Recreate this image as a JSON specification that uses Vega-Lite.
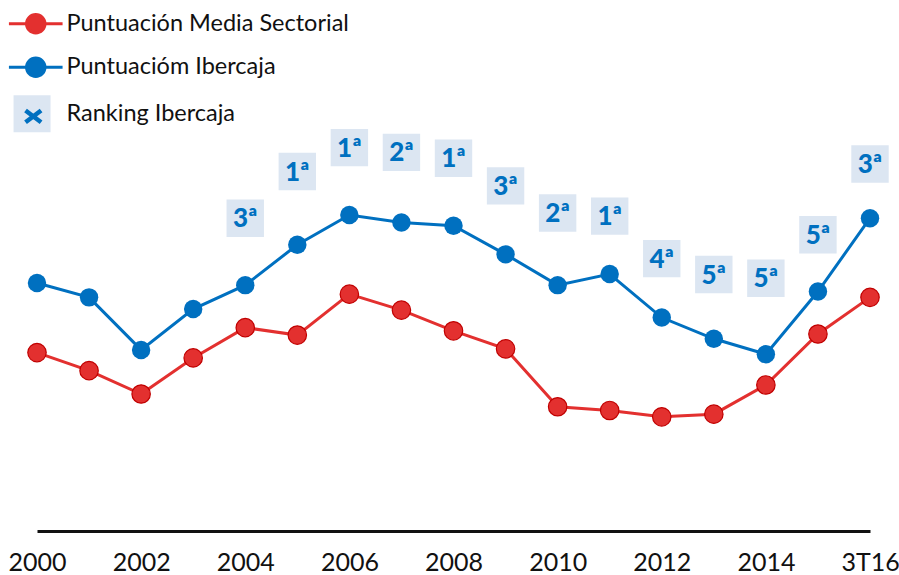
{
  "$schema": "https://vega.github.io/schema/vega-lite/v6.json",
  "width": 833,
  "height": 531,
  "autosize": {"type": "none"},
  "padding": {"left": 37, "top": 0, "right": 29, "bottom": 44},
  "background": "white",
  "config": {"view": {"stroke": null}, "font": "Lato"},
  "data": {
    "values": [
      {"periodo": "2000", "serie": "Puntuación Media Sectorial", "valor": 33.6},
      {"periodo": "2001", "serie": "Puntuación Media Sectorial", "valor": 30.2},
      {"periodo": "2002", "serie": "Puntuación Media Sectorial", "valor": 25.8},
      {"periodo": "2003", "serie": "Puntuación Media Sectorial", "valor": 32.6},
      {"periodo": "2004", "serie": "Puntuación Media Sectorial", "valor": 38.3},
      {"periodo": "2005", "serie": "Puntuación Media Sectorial", "valor": 36.9},
      {"periodo": "2006", "serie": "Puntuación Media Sectorial", "valor": 44.6},
      {"periodo": "2007", "serie": "Puntuación Media Sectorial", "valor": 41.6},
      {"periodo": "2008", "serie": "Puntuación Media Sectorial", "valor": 37.7},
      {"periodo": "2009", "serie": "Puntuación Media Sectorial", "valor": 34.3},
      {"periodo": "2010", "serie": "Puntuación Media Sectorial", "valor": 23.4},
      {"periodo": "2011", "serie": "Puntuación Media Sectorial", "valor": 22.7},
      {"periodo": "2012", "serie": "Puntuación Media Sectorial", "valor": 21.5},
      {"periodo": "2013", "serie": "Puntuación Media Sectorial", "valor": 22.0},
      {"periodo": "2014", "serie": "Puntuación Media Sectorial", "valor": 27.5},
      {"periodo": "2015", "serie": "Puntuación Media Sectorial", "valor": 37.1},
      {"periodo": "3T16", "serie": "Puntuación Media Sectorial", "valor": 44.0},
      {"periodo": "2000", "serie": "Puntuacióm Ibercaja", "valor": 46.7},
      {"periodo": "2001", "serie": "Puntuacióm Ibercaja", "valor": 44.0},
      {"periodo": "2002", "serie": "Puntuacióm Ibercaja", "valor": 34.1},
      {"periodo": "2003", "serie": "Puntuacióm Ibercaja", "valor": 41.8},
      {"periodo": "2004", "serie": "Puntuacióm Ibercaja", "valor": 46.3},
      {"periodo": "2005", "serie": "Puntuacióm Ibercaja", "valor": 53.9},
      {"periodo": "2006", "serie": "Puntuacióm Ibercaja", "valor": 59.5},
      {"periodo": "2007", "serie": "Puntuacióm Ibercaja", "valor": 58.1},
      {"periodo": "2008", "serie": "Puntuacióm Ibercaja", "valor": 57.5},
      {"periodo": "2009", "serie": "Puntuacióm Ibercaja", "valor": 52.1},
      {"periodo": "2010", "serie": "Puntuacióm Ibercaja", "valor": 46.3},
      {"periodo": "2011", "serie": "Puntuacióm Ibercaja", "valor": 48.4},
      {"periodo": "2012", "serie": "Puntuacióm Ibercaja", "valor": 40.2},
      {"periodo": "2013", "serie": "Puntuacióm Ibercaja", "valor": 36.2},
      {"periodo": "2014", "serie": "Puntuacióm Ibercaja", "valor": 33.3},
      {"periodo": "2015", "serie": "Puntuacióm Ibercaja", "valor": 45.1},
      {"periodo": "3T16", "serie": "Puntuacióm Ibercaja", "valor": 58.9},
      {"periodo": "2004", "serie": "Ranking Ibercaja", "valor": 58.9, "rank": "3ª", "leyenda": "x"},
      {"periodo": "2005", "serie": "Ranking Ibercaja", "valor": 67.7, "rank": "1ª", "leyenda": "x"},
      {"periodo": "2006", "serie": "Ranking Ibercaja", "valor": 72.2, "rank": "1ª", "leyenda": "x"},
      {"periodo": "2007", "serie": "Ranking Ibercaja", "valor": 71.3, "rank": "2ª", "leyenda": "x"},
      {"periodo": "2008", "serie": "Ranking Ibercaja", "valor": 70.2, "rank": "1ª", "leyenda": "x"},
      {"periodo": "2009", "serie": "Ranking Ibercaja", "valor": 65.0, "rank": "3ª", "leyenda": "x"},
      {"periodo": "2010", "serie": "Ranking Ibercaja", "valor": 59.9, "rank": "2ª", "leyenda": "x"},
      {"periodo": "2011", "serie": "Ranking Ibercaja", "valor": 59.3, "rank": "1ª", "leyenda": "x"},
      {"periodo": "2012", "serie": "Ranking Ibercaja", "valor": 51.3, "rank": "4ª", "leyenda": "x"},
      {"periodo": "2013", "serie": "Ranking Ibercaja", "valor": 48.3, "rank": "5ª", "leyenda": "x"},
      {"periodo": "2014", "serie": "Ranking Ibercaja", "valor": 47.6, "rank": "5ª", "leyenda": "x"},
      {"periodo": "2015", "serie": "Ranking Ibercaja", "valor": 55.8, "rank": "5ª", "leyenda": "x"},
      {"periodo": "3T16", "serie": "Ranking Ibercaja", "valor": 69.1, "rank": "3ª", "leyenda": "x"}
    ]
  },
  "encoding": {
    "x": {
      "field": "periodo",
      "type": "ordinal",
      "scale": {"type": "point", "padding": 0},
      "axis": {
        "title": null,
        "values": ["2000", "2002", "2004", "2006", "2008", "2010", "2012", "2014", "3T16"],
        "labelAngle": 0,
        "labelFont": "Lato",
        "labelFontSize": 25,
        "labelColor": "#111111",
        "labelPadding": 19,
        "ticks": false,
        "grid": false,
        "domainColor": "#111111",
        "domainWidth": 3
      }
    },
    "y": {
      "field": "valor",
      "type": "quantitative",
      "scale": {"domain": [0, 100], "nice": false, "zero": false},
      "axis": null
    }
  },
  "layer": [
    {
      "transform": [{"filter": "datum.serie !== 'Ranking Ibercaja'"}],
      "mark": {"type": "line", "strokeWidth": 3},
      "encoding": {
        "color": {
          "field": "serie",
          "type": "nominal",
          "scale": {
            "domain": ["Puntuación Media Sectorial", "Puntuacióm Ibercaja", "Ranking Ibercaja"],
            "range": ["#e3302f", "#0070c0", "#dce6f2"]
          },
          "legend": {
            "title": null,
            "orient": "none",
            "legendX": -13,
            "legendY": 12,
            "padding": 0,
            "symbolSize": 1369,
            "rowPadding": 12.5,
            "labelOffset": 19,
            "labelFont": "Lato",
            "labelFontSize": 23.5,
            "labelColor": "#111111",
            "labelLimit": 400,
            "encode": {
              "symbols": {
                "update": {
                  "shape": {"signal": "datum.value === 'Ranking Ibercaja' ? 'M-1.2,-1H0.8V1H-1.2Z' : 'M-1.45,0H-0.5A0.5,0.5 0 1,1 0.5,0A0.5,0.5 0 1,1 -0.5,0M0.5,0H1.45'"},
                  "fill": {"signal": "datum.value === 'Puntuación Media Sectorial' ? '#e3302f' : datum.value === 'Puntuacióm Ibercaja' ? '#0070c0' : '#dce6f2'"},
                  "stroke": {"signal": "datum.value === 'Puntuación Media Sectorial' ? '#e3302f' : datum.value === 'Puntuacióm Ibercaja' ? '#0070c0' : 'transparent'"},
                  "strokeWidth": {"signal": "datum.value === 'Ranking Ibercaja' ? 0 : 3"},
                  "size": {"signal": "1369"},
                  "opacity": {"signal": "1"},
                  "fillOpacity": {"signal": "1"},
                  "strokeOpacity": {"signal": "1"}
                }
              }
            }
          }
        }
      }
    },
    {
      "transform": [{"filter": "datum.serie === 'Puntuación Media Sectorial'"}],
      "mark": {"type": "point", "filled": true, "size": 340, "opacity": 1, "stroke": "#c00000", "strokeWidth": 1.2},
      "encoding": {"color": {"field": "serie", "type": "nominal"}}
    },
    {
      "transform": [{"filter": "datum.serie === 'Puntuacióm Ibercaja'"}],
      "mark": {"type": "point", "filled": true, "size": 340, "opacity": 1},
      "encoding": {"color": {"field": "serie", "type": "nominal"}}
    },
    {
      "transform": [{"filter": "datum.serie === 'Ranking Ibercaja'"}],
      "mark": {"type": "square", "size": 1400, "opacity": 1},
      "encoding": {"color": {"field": "serie", "type": "nominal"}}
    },
    {
      "transform": [{"filter": "datum.serie === 'Ranking Ibercaja'"}],
      "mark": {"type": "point", "filled": false, "size": 10, "opacity": 0, "color": "#0070c0"},
      "encoding": {
        "shape": {
          "field": "leyenda",
          "type": "nominal",
          "scale": {"range": ["M-0.62,-0.3L0.22,0.34M0.22,-0.3L-0.62,0.34"]},
          "legend": {
            "title": null,
            "orient": "none",
            "legendX": -21,
            "legendY": 95,
            "padding": 0,
            "symbolSize": 1369,
            "symbolOpacity": 1,
            "symbolStrokeColor": "#0070c0",
            "symbolFillColor": "transparent",
            "symbolStrokeWidth": 4.5,
            "labelExpr": "''"
          }
        }
      }
    },
    {
      "transform": [{"filter": "datum.serie === 'Ranking Ibercaja'"}],
      "mark": {"type": "text", "font": "Lato", "fontWeight": 900, "fontSize": 26, "color": "#0070c0", "align": "center", "baseline": "middle", "dy": 1},
      "encoding": {"text": {"field": "rank"}}
    }
  ]
}
